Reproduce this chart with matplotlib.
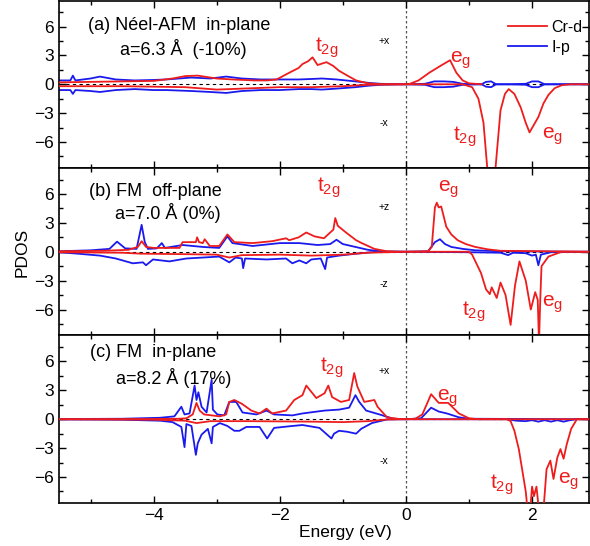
import matplotlib
matplotlib.use("Agg")
import matplotlib.pyplot as plt
from matplotlib.ticker import MultipleLocator
import numpy as np

plt.rcParams["font.family"] = ["Liberation Sans", "DejaVu Sans"]
plt.rcParams["mathtext.fontset"] = "custom"
plt.rcParams["mathtext.rm"] = "Liberation Sans"
plt.rcParams["mathtext.it"] = "Liberation Sans"

# -----------------------------------------
# (a) Neel-AFM in-plane
# -----------------------------------------
a_cr_up_E = [-5.5, -5.0, -4.5, -4.0, -3.7, -3.5, -3.3, -3.0, -2.75, -2.4, -2.2, -2.05, -1.85,
             -1.7, -1.64, -1.55, -1.48, -1.4, -1.26, -1.15, -1.06, -0.9, -0.79, -0.6, -0.45,
             0.0, 0.05, 0.2, 0.37, 0.57, 0.7, 0.8, 0.9, 1.0, 1.2]
a_cr_up = [0.2, 0.25, 0.3, 0.35, 0.6, 0.85, 0.9, 0.6, 0.5, 0.4, 0.4, 0.5, 1.2,
           1.7, 2.1, 2.4, 2.8, 2.0, 2.3, 1.9, 1.4, 0.8, 0.4, 0.1, 0.02,
           0.0, 0.02, 0.4, 1.2, 2.0, 2.5, 1.2, 0.4, 0.1, 0.0]
a_cr_dn_E = [-5.5, -4.5, -3.5, -3.0, -2.6, -2.0, -1.5, -1.0, -0.6, 0.0, 0.9, 1.05, 1.15, 1.23,
             1.3, 1.41, 1.5, 1.57, 1.63, 1.72, 1.82, 1.9, 1.96, 2.03, 2.1, 2.18, 2.26, 2.36,
             2.47, 2.6, 2.9]
a_cr_dn = [-0.2, -0.2, -0.3, -0.55, -0.45, -0.3, -0.3, -0.2, -0.05, 0.0, 0.0, -0.3, -1.5, -4.0,
           -9.5, -9.5, -2.7, -1.0, -0.5, -1.0, -2.4, -4.0, -5.0, -4.2, -3.4, -2.0, -1.1, -0.4,
           -0.1, 0.0, 0.0]
a_ip_up_E = [-5.5, -5.32, -5.28, -5.24, -5.0, -4.85, -4.6, -4.3, -4.0, -3.8, -3.4, -3.1, -2.85,
             -2.6, -2.3, -2.0, -1.7, -1.5, -1.33, -1.1, -0.8, -0.6, -0.4, 0.0, 0.3, 0.45, 0.6,
             0.75, 0.9, 1.2, 1.27, 1.35, 1.43, 1.6, 1.9, 2.0, 2.1, 2.2, 2.9]
a_ip_up = [0.4, 0.4, 0.9, 0.4, 0.6, 0.8, 0.5, 0.4, 0.45, 0.5, 0.7, 0.6, 0.8,
           0.6, 0.5, 0.5, 0.5, 0.55, 0.6, 0.5, 0.3, 0.15, 0.05, 0.0, 0.05, 0.3, 0.3,
           0.25, 0.05, 0.0, 0.25, 0.3, 0.0, 0.0, 0.05, 0.3, 0.3, 0.0, 0.0]
a_ip_dn = [-0.6, -0.6, -1.0, -0.6, -0.7, -0.8, -0.6, -0.5, -0.6, -0.6, -0.7, -0.8, -0.9,
           -0.7, -0.6, -0.6, -0.5, -0.5, -0.55, -0.45, -0.3, -0.15, -0.05, 0.0, -0.05, -0.3, -0.3,
           -0.25, -0.05, 0.0, -0.25, -0.3, 0.0, 0.0, -0.05, -0.3, -0.3, 0.0, 0.0]

# -----------------------------------------
# (b) FM off-plane
# -----------------------------------------
b_cr_up_E = [-5.5, -4.8, -4.4, -4.25, -4.19, -4.12, -4.0, -3.7, -3.59, -3.54, -3.4, -3.33,
             -3.31, -3.28, -3.22, -3.19, -3.11, -2.96, -2.83, -2.72, -2.43, -2.12, -1.9, -1.85,
             -1.7, -1.58, -1.45, -1.3, -1.15, -1.12, -1.08, -0.95, -0.85, -0.79, -0.7, -0.5,
             -0.3, 0.0, 0.35, 0.41, 0.46, 0.49, 0.52, 0.56, 0.64, 0.72, 0.82, 0.95, 1.1, 1.3,
             1.5, 2.9]
b_cr_up = [0.05, 0.1, 0.2, 0.5, 1.1, 0.5, 0.4, 0.4, 0.4, 1.0, 1.0, 1.0,
           1.5, 1.0, 0.9, 1.3, 0.6, 0.6, 1.8, 1.0, 0.9, 1.1, 1.4, 1.2,
           1.5, 2.0, 1.6, 1.4, 2.3, 3.5, 2.7, 2.0, 1.5, 1.2, 0.9, 0.3,
           0.05, 0.0, 0.05, 0.5, 4.6, 5.1, 4.6, 4.7, 2.6, 1.8, 1.2, 0.8, 0.5, 0.25,
           0.1, 0.0]
b_cr_dn_E = [-5.5, -4.5, -4.2, -3.5, -3.0, -2.8, -2.6, -2.0, -1.5, -1.0, -0.6, 0.0, 1.0, 1.05,
             1.19, 1.27, 1.33, 1.36, 1.44, 1.5, 1.58, 1.66, 1.73, 1.8, 1.9, 1.98, 2.05, 2.09,
             2.11, 2.13, 2.15, 2.26, 2.47, 2.9]
b_cr_dn = [-0.05, -0.1, -0.2, -0.25, -0.3, -0.6, -0.35, -0.3, -0.4, -0.3, -0.1, 0.0, 0.0, -0.3,
           -2.2, -3.9, -4.4, -3.7, -4.8, -3.2, -4.5, -7.6, -3.5, -1.0, -3.0, -6.0, -4.2, -5.0,
           -9.5, -5.0, -1.5, -0.5, 0.0, 0.0]
b_ip_up_E = [-5.5, -5.0, -4.7, -4.58, -4.45, -4.27, -4.19, -4.14, -4.09, -3.95, -3.87, -3.82,
             -3.54, -3.22, -2.96, -2.83, -2.75, -2.43, -2.0, -1.69, -1.4, -1.2, -1.1, -1.0,
             -0.8, -0.6, -0.4, 0.0, 0.35, 0.46, 0.54, 0.62, 0.72, 0.9, 1.1, 1.5, 2.9]
b_ip_up = [0.05, 0.15, 0.3, 1.05, 0.35, 0.3, 2.8, 1.0, 0.3, 0.35, 0.9, 0.4,
           0.7, 0.5, 0.4, 1.6, 0.9, 0.6, 0.9, 0.9, 0.7, 0.8, 1.25, 0.8,
           0.5, 0.2, 0.05, 0.0, 0.05, 1.0, 1.3, 0.8, 0.5, 0.3, 0.15, 0.05, 0.0]
b_ip_dn_E = [-5.5, -5.2, -4.85, -4.6, -4.33, -4.17, -4.12, -4.01, -3.75, -3.48, -2.96, -2.8,
             -2.7, -2.6, -2.58, -2.55, -2.21, -1.9, -1.8, -1.69, -1.58, -1.5, -1.35, -1.28,
             -1.25, -1.06, -0.79, -0.5, 0.0, 1.0, 1.5, 1.62, 1.7, 1.9, 2.0, 2.06, 2.1, 2.14,
             2.3, 2.9]
b_ip_dn = [-0.05, -0.2, -0.4, -0.7, -1.2, -1.1, -1.4, -0.8, -1.0, -0.7, -0.5, -1.1,
           -0.6, -0.7, -1.7, -0.7, -0.8, -0.7, -1.2, -0.9, -1.2, -0.8, -0.7, -1.8,
           -0.6, -0.4, -0.2, -0.02, 0.0, -0.05, -0.1, -0.35, -0.1, -0.15, -0.4, -0.3, -1.4, -0.3,
           -0.05, 0.0]

# -----------------------------------------
# (c) FM in-plane
# -----------------------------------------
c_cr_up_E = [-5.5, -4.0, -3.6, -3.48, -3.38, -3.32, -3.27, -3.2, -3.08, -2.95, -2.85, -2.8,
             -2.72, -2.6, -2.45, -2.32, -2.21, -2.12, -1.9, -1.77, -1.64, -1.58, -1.42, -1.29,
             -1.23, -1.17, -1.03, -0.9, -0.82, -0.77, -0.66, -0.5, -0.45, -0.3, -0.1, 0.0,
             0.15, 0.26, 0.4, 0.52, 0.67, 0.84, 1.0, 1.15, 2.9]
c_cr_up = [0.0, 0.02, 0.05, 0.1, 0.5, 1.7, 0.9, 0.5, 0.4, 0.3, 0.5, 1.8,
           2.0, 1.6, 0.9, 0.6, 1.1, 0.6, 0.9, 2.0, 2.5, 3.5, 2.2, 2.7,
           3.5, 2.3, 1.8, 2.0, 4.8, 3.4, 1.8, 2.0, 1.3, 0.2, 0.02, 0.0,
           0.05, 0.5, 2.6, 1.7, 1.7, 0.6, 0.1, 0.0, 0.0]
c_cr_dn_E = [-5.5, -4.0, -3.5, -3.32, -3.1, -2.5, -1.5, -1.0, -0.6, -0.3, 0.0, 1.6, 1.66, 1.72,
             1.79, 1.85, 1.9, 1.93, 1.97, 2.0, 2.03, 2.07, 2.11, 2.14, 2.18, 2.23, 2.29, 2.34,
             2.4, 2.45, 2.5, 2.55, 2.62, 2.71, 2.9]
c_cr_dn = [0.0, -0.05, -0.15, -0.4, -0.2, -0.2, -0.25, -0.3, -0.2, -0.03, 0.0, 0.0, -0.2, -1.2,
           -3.1, -5.5, -7.5, -9.5, -9.5, -7.0, -8.0, -7.0, -9.5, -9.5, -9.5, -5.2, -4.3, -6.2,
           -4.0, -3.1, -4.1, -2.6, -1.0, 0.0, 0.0]
c_ip_up_E = [-5.5, -4.5, -3.9, -3.67, -3.56, -3.51, -3.43, -3.35, -3.32, -3.29, -3.24, -3.16,
             -3.08, -3.06, -2.99, -2.88, -2.8, -2.69, -2.59, -2.37, -2.21, -2.09, -1.8, -1.64,
             -1.29, -1.06, -0.9, -0.8, -0.74, -0.63, -0.42, -0.2, 0.0, 0.24, 0.4, 0.52, 0.65,
             0.84, 1.0, 2.9]
c_ip_up = [0.02, 0.05, 0.15, 0.3, 1.3, 0.5, 0.6, 3.5, 2.0, 2.8, 1.3, 0.7,
           4.1, 1.0, 0.5, 0.4, 1.8, 1.8, 0.7, 0.5, 0.9, 0.5, 0.4, 0.6,
           0.9, 1.0, 1.2, 2.5, 1.8, 0.9, 0.5, 0.05, 0.0, 0.1, 1.2, 0.8, 0.6,
           0.2, 0.05, 0.0]
c_ip_dn_E = [-5.5, -4.5, -3.9, -3.7, -3.56, -3.51, -3.48, -3.4, -3.33, -3.3, -3.24, -3.14,
             -3.08, -3.06, -2.95, -2.83, -2.72, -2.64, -2.53, -2.32, -2.2, -2.09, -1.8, -1.64,
             -1.37, -1.18, -1.14, -1.06, -0.93, -0.79, -0.71, -0.54, -0.3, 0.0, 1.6, 1.75, 1.9,
             2.0, 2.1, 2.2, 2.3, 2.4, 2.5, 2.6, 2.7, 2.9]
c_ip_dn = [-0.02, -0.05, -0.15, -0.3, -0.8, -2.9, -0.5, -0.7, -3.7, -2.5, -1.6, -1.0,
           -2.5, -0.8, -0.4, -0.7, -1.2, -1.2, -0.8, -0.8, -2.0, -0.9, -0.7, -0.6,
           -0.9, -2.0, -1.5, -1.2, -1.3, -1.5, -1.0, -0.4, -0.02, 0.0, 0.0, -0.15, -0.2,
           -0.1, -0.25, -0.1, -0.25, -0.1, -0.25, -0.1, 0.0, 0.0]

panel_titles = ["(a) Néel-AFM  in-plane", "(b) FM  off-plane", "(c) FM  in-plane"]
panel_lattice = ["a=6.3 Å  (-10%)", "a=7.0 Å (0%)", "a=8.2 Å (17%)"]
spin_labels = [("+x", "-x"), ("+z", "-z"), ("+x", "-x")]

RED = "#ee1c1c"
BLUE = "#1a1aee"
T2G = r"$\mathrm{t_{2g}}$"
EG = r"$\mathrm{e_{g}}$"

panels = [
    (a_cr_up_E, a_cr_up, a_cr_dn_E, a_cr_dn, a_ip_up_E, a_ip_up, a_ip_up_E, a_ip_dn),
    (b_cr_up_E, b_cr_up, b_cr_dn_E, b_cr_dn, b_ip_up_E, b_ip_up, b_ip_dn_E, b_ip_dn),
    (c_cr_up_E, c_cr_up, c_cr_dn_E, c_cr_dn, c_ip_up_E, c_ip_up, c_ip_dn_E, c_ip_dn),
]

# label positions (energy, pdos) for t2g/eg, up and down
orbital_labels = [
    [(-1.25, 3.8, T2G), (0.87, 2.5, EG), (0.93, -5.5, T2G), (2.33, -5.4, EG)],
    [(-1.22, 6.6, T2G), (0.68, 6.5, EG), (1.08, -6.2, T2G), (2.33, -5.5, EG)],
    [(-1.17, 5.4, T2G), (0.66, 2.2, EG), (1.52, -6.8, T2G), (2.58, -6.4, EG)],
]
title_pos = [(-5.04, 6.1, -4.54, 3.7), (-5.03, 6.3, -4.61, 4.0), (-5.01, 6.9, -4.6, 4.3)]
spin_y = [(4.5, -4.0), (4.6, -3.4), (5.0, -4.3)]

fig = plt.figure(figsize=(5.9, 5.46), dpi=100)

left, right = 0.1, 0.998
bottom, top = 0.0788, 0.999
h = (top - bottom) / 3

axes = []
for i in range(3):
    ax = fig.add_axes([left, top - (i + 1) * h, right - left, h])
    axes.append(ax)

    cr_up_E, cr_up, cr_dn_E, cr_dn, ip_up_E, ip_up, ip_dn_E, ip_dn = panels[i]

    ax.axhline(0, color="black", lw=0.8, ls=(0, (3, 3)), zorder=1)
    ax.axvline(0, color="#555555", lw=0.9, ls=(0, (2, 2)), zorder=1)

    ax.plot(cr_up_E, cr_up, color=RED, lw=1.3, label="Cr-d", zorder=3)
    ax.plot(cr_dn_E, cr_dn, color=RED, lw=1.3, zorder=3)
    ax.plot(ip_up_E, ip_up, color=BLUE, lw=1.3, label="I-p", zorder=2)
    ax.plot(ip_dn_E, ip_dn, color=BLUE, lw=1.3, zorder=2)

    ax.set_xlim(-5.5, 2.9)
    ax.set_ylim(-8.7, 8.7)
    ax.yaxis.set_major_locator(MultipleLocator(3))
    ax.yaxis.set_minor_locator(MultipleLocator(1.5))
    ax.xaxis.set_major_locator(MultipleLocator(2))
    ax.xaxis.set_minor_locator(MultipleLocator(1))
    ax.tick_params(which="both", direction="in", top=True, right=True, labelsize=12.5,
                   width=1.0)
    ax.tick_params(which="major", length=5)
    ax.tick_params(which="minor", length=3)
    for s in ax.spines.values():
        s.set_linewidth(1.2)
    if i < 2:
        ax.tick_params(labelbottom=False)

    x1, y1, x2, y2 = title_pos[i]
    ax.text(x1, y1, panel_titles[i], fontsize=13, va="center", ha="left")
    ax.text(x2, y2, panel_lattice[i], fontsize=13, va="center", ha="left")

    up_lab, dn_lab = spin_labels[i]
    ax.text(-0.35, spin_y[i][0], up_lab, fontsize=7.5, ha="center", va="center")
    ax.text(-0.35, spin_y[i][1], dn_lab, fontsize=7.5, ha="center", va="center")

    for ex, ey, lab in orbital_labels[i]:
        ax.text(ex, ey, lab, color=RED, fontsize=15, ha="center", va="center")

axes[0].legend(loc="upper left", bbox_to_anchor=(0.847, 0.885), frameon=False,
               fontsize=11.5, handlelength=2.45, handletextpad=0.3, borderpad=0,
               borderaxespad=0, labelspacing=0.3)

fig.text(345 / 590, 1 - 533 / 546, "Energy (eV)", fontsize=12.5, ha="center", va="center")
fig.text(22 / 590, 1 - 252 / 546, "PDOS", fontsize=12.5, rotation=90, ha="center", va="center")

fig.savefig("out.png", dpi=100)
